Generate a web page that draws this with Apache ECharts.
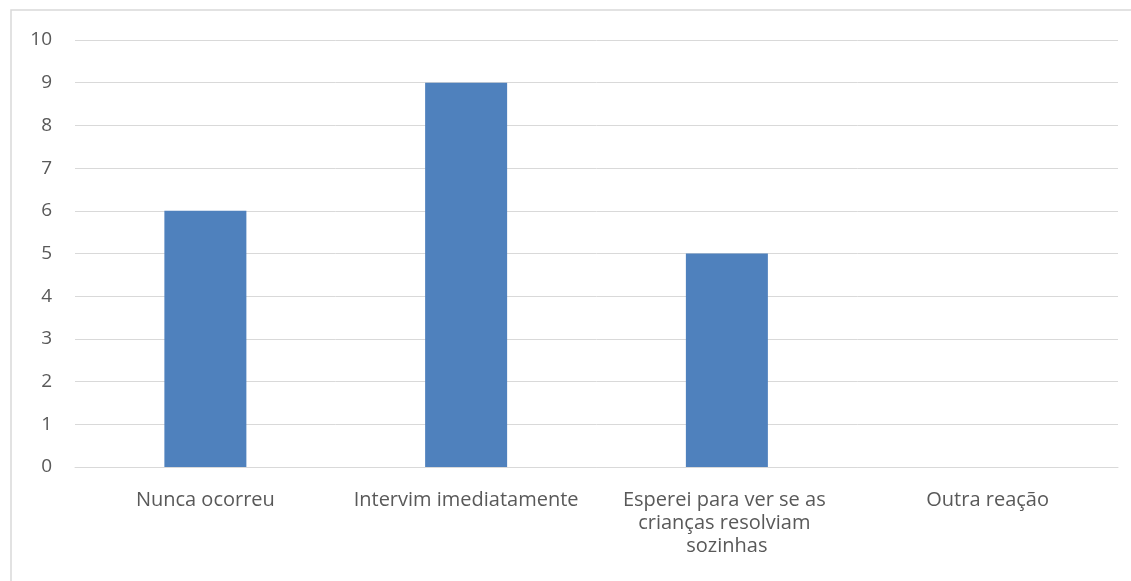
<!DOCTYPE html>
<html>
<head>
<meta charset="utf-8">
<script src="https://cdn.jsdelivr.net/npm/echarts@6/dist/echarts.min.js"></script>
<style>
  html, body { margin: 0; padding: 0; background: #fff; }
  #chart { width: 1131px; height: 581px; }
</style>
</head>
<body>
<div id="chart"></div>
<script>
const categories = ['Nunca ocorreu', 'Intervim imediatamente', 'Esperei para ver se as crianças resolviam sozinhas', 'Outra reação']
const values = [6, 9, 5, 0]
const yTicks = { min: 0, max: 10, interval: 1 }

const chart = echarts.init(document.getElementById('chart'))
const font = '"Open Sans", "Liberation Sans", sans-serif'
const option = {
  backgroundColor: '#fff',
  animation: false,
  graphic: [
    {
      type: 'rect',
      shape: { x: 11, y: 10, width: 1140, height: 600 },
      style: { fill: 'none', stroke: '#d9d9d9', lineWidth: 1.5 },
      silent: true,
    },
  ],
  grid: {
    left: 75,
    right: 13,
    top: 40,
    bottom: 114,
  },
  xAxis: {
    type: 'category',
    data: categories,
    axisLine: { lineStyle: { color: '#d9d9d9', width: 1 } },
    axisTick: { show: false },
    axisLabel: {
      color: '#595959',
      fontFamily: font,
      fontSize: 20,
      lineHeight: 23,
      margin: 22,
      width: 250,
      overflow: 'break',
      interval: 0,
    },
  },
  yAxis: {
    type: 'value',
    min: yTicks.min,
    max: yTicks.max,
    interval: yTicks.interval,
    axisLine: { show: false },
    axisTick: { show: false },
    axisLabel: {
      color: '#595959',
      fontFamily: font,
      fontSize: 19,
      margin: 23,
    },
    splitLine: { lineStyle: { color: '#d9d9d9', width: 1 } },
  },
  series: [
    {
      type: 'bar',
      data: values,
      barWidth: 82,
      itemStyle: { color: '#4f81bd' },
    },
  ],
}
chart.setOption(option)
</script>
</body>
</html>
